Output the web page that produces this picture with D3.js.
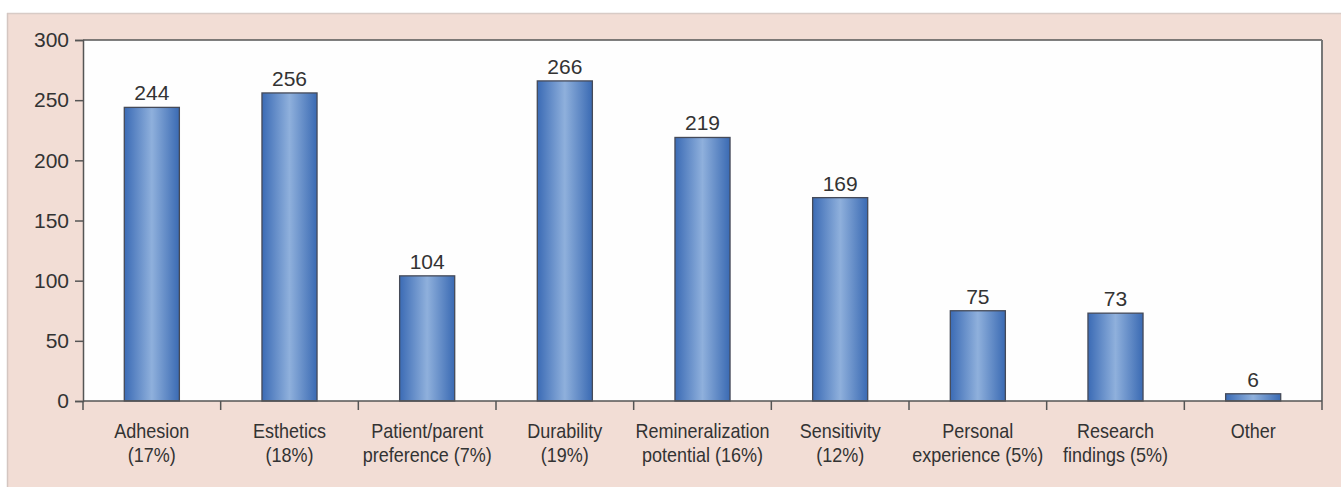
<!DOCTYPE html>
<html><head><meta charset="utf-8">
<script src="https://cdn.jsdelivr.net/npm/d3@7"></script>
<style>
html,body{margin:0;padding:0;background:#fff;}
svg{display:block;font-family:"Liberation Sans",Arial,sans-serif;}
</style></head>
<body>
<svg id="chart" width="1341" height="488"></svg>
<script>
const categories = ["Adhesion","Esthetics","Patient/parent","Durability","Remineralization","Sensitivity","Personal","Research","Other"];
const categoryLine2 = ["(17%)","(18%)","preference (7%)","(19%)","potential (16%)","(12%)","experience (5%)","findings (5%)",""];
const values = [244,256,104,266,219,169,75,73,6];
const yTicks = [0,50,100,150,200,250,300];

const svg = d3.select("#chart");
const W = 1341, H = 488;
const m = {left:83, right:1322, top:40, bottom:401};

// outer panel
svg.append("rect").attr("x",7).attr("y",13).attr("width",W-7).attr("height",474)
  .attr("fill","#f2ddd5");
svg.append("line").attr("x1",7).attr("x2",W).attr("y1",13.5).attr("y2",13.5).attr("stroke","#d8cbc6").attr("stroke-width",1.5);
svg.append("line").attr("x1",7.5).attr("x2",7.5).attr("y1",13).attr("y2",487).attr("stroke","#d4c6c1").attr("stroke-width",1.5);

const x = d3.scaleBand().domain(d3.range(categories.length)).range([m.left,m.right]).paddingInner(0).paddingOuter(0);
const y = d3.scaleLinear().domain([0,300]).range([m.bottom,m.top]);

// plot area
svg.append("rect").attr("x",m.left).attr("y",m.top).attr("width",m.right-m.left).attr("height",m.bottom-m.top).attr("fill","#fefefe");

// gradient
const defs = svg.append("defs");
const g = defs.append("linearGradient").attr("id","barGrad").attr("x1","0%").attr("x2","100%").attr("y1","0%").attr("y2","0%");
g.append("stop").attr("offset","0%").attr("stop-color","#3b6bb5");
g.append("stop").attr("offset","50%").attr("stop-color","#8fb0dc");
g.append("stop").attr("offset","100%").attr("stop-color","#3a6ab3");

const bw = x.bandwidth()*0.4;
svg.append("g").selectAll("rect").data(values).join("rect")
  .attr("x",(d,i)=>x(i)+x.bandwidth()/2-bw/2)
  .attr("y",d=>y(d))
  .attr("width",bw)
  .attr("height",d=>y(0)-y(d))
  .attr("fill","url(#barGrad)")
  .attr("stroke","#454a58").attr("stroke-width",1.3);

svg.append("g").selectAll("text").data(values).join("text")
  .attr("x",(d,i)=>x(i)+x.bandwidth()/2)
  .attr("y",d=>y(d)-7)
  .attr("text-anchor","middle")
  .attr("font-size",21).attr("fill","#333")
  .text(d=>d);

// frame top & right
svg.append("line").attr("x1",m.left).attr("x2",m.right).attr("y1",m.top).attr("y2",m.top).attr("stroke","#555").attr("stroke-width",1.5);
svg.append("line").attr("x1",m.right).attr("x2",m.right).attr("y1",m.top).attr("y2",m.bottom).attr("stroke","#777").attr("stroke-width",2);

// y axis
const yAxis = d3.axisLeft(y).tickValues(yTicks).tickSize(8).tickPadding(6);
const ya = svg.append("g").attr("transform",`translate(${m.left},0)`).call(yAxis);
ya.select(".domain").attr("stroke","#555").attr("stroke-width",1.5);
ya.selectAll(".tick line").attr("stroke","#555").attr("stroke-width",1.5);
ya.selectAll(".tick text").attr("font-size",21).attr("fill","#333").attr("font-family","Liberation Sans, Arial, sans-serif");

// x axis
const boundaries = d3.range(categories.length+1).map(i=>m.left + i*x.step());
const xa = svg.append("g");
xa.append("line").attr("x1",m.left).attr("x2",m.right).attr("y1",m.bottom).attr("y2",m.bottom).attr("stroke","#555").attr("stroke-width",1.5);
xa.selectAll("line.t").data(boundaries).join("line").attr("class","t")
  .attr("x1",d=>d).attr("x2",d=>d).attr("y1",m.bottom).attr("y2",m.bottom+9)
  .attr("stroke","#555").attr("stroke-width",1.5);
const lab = xa.selectAll("text").data(categories).join("text")
  .attr("text-anchor","middle").attr("font-size",20).attr("fill","#333")
  .attr("transform",(d,i)=>`translate(${x(i)+x.bandwidth()/2},0) scale(0.9,1)`);
lab.append("tspan").attr("x",0).attr("y",438).text(d=>d);
lab.append("tspan").attr("x",0).attr("y",462).text((d,i)=>categoryLine2[i]);
</script>
</body></html>
